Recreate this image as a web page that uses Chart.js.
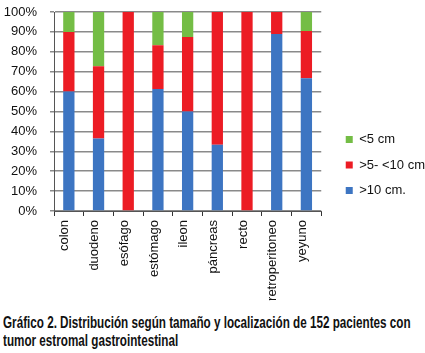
<!DOCTYPE html>
<html>
<head>
<meta charset="utf-8">
<script src="https://cdn.jsdelivr.net/npm/chart.js@4/dist/chart.umd.min.js"></script>
<style>
  html, body { margin: 0; padding: 0; background: #fff; }
  #wrap { position: relative; width: 425px; height: 304px; }
  #caption {
    position: absolute; top: 314px; left: 3px;
    font-family: "Liberation Sans", Arial, sans-serif;
    font-weight: bold; font-size: 16px; line-height: 18px; color: #111;
    white-space: nowrap;
    transform: scaleX(0.73); transform-origin: 0 0;
  }
</style>
</head>
<body>
<div id="wrap"><canvas id="chart_gist" width="425" height="304"></canvas></div>
<div id="caption">Gráfico 2. Distribución según tamaño y localización de 152 pacientes con<br>tumor estromal gastrointestinal</div>
<script>
var categories = ['colon', 'duodeno', 'esófago', 'estómago', 'ileon', 'páncreas', 'recto', 'retroperitoneo', 'yeyuno'];
var mayor10 = [60, 36.4, 0, 61.3, 50, 33.3, 0, 88.9, 66.7];
var entre5y10 = [30, 36.4, 100, 22, 37.5, 66.7, 100, 11.1, 23.8];
var menor5 = [10, 27.2, 0, 16.7, 12.5, 0, 0, 0, 9.5];
var yTicks = [0, 10, 20, 30, 40, 50, 60, 70, 80, 90, 100];

var chart_gist = new Chart(document.getElementById('chart_gist'), {
    type: 'bar',
    data: {
        labels: categories,
        datasets: [
            { label: '>10 cm.', data: mayor10, backgroundColor: '#3d75c2' },
            { label: '>5- <10 cm', data: entre5y10, backgroundColor: '#ec1c24' },
            { label: '<5 cm', data: menor5, backgroundColor: '#74bd45' }
        ]
    },
    options: {
        animation: false,
        responsive: false,
        datasets: {
            bar: { categoryPercentage: 1, barPercentage: 0.38 }
        },
        layout: { padding: { top: 4, left: 0, right: 2, bottom: 0 } },
        plugins: {
            tooltip: { enabled: false },
            legend: {
                position: 'right',
                reverse: true,
                labels: {
                    boxWidth: 7,
                    boxHeight: 7,
                    padding: 12.5,
                    color: '#111',
                    font: { family: 'Liberation Sans', size: 13 }
                }
            }
        },
        scales: {
            x: {
                stacked: true,
                afterFit: function(axis) { axis.height = 93; },
                grid: { offset: true, drawOnChartArea: false, tickLength: 5, color: '#333' },
                border: { color: '#555' },
                ticks: {
                    autoSkip: false,
                    minRotation: 90, maxRotation: 90, padding: 4, labelOffset: -4,
                    color: '#111',
                    font: { family: 'Liberation Sans', size: 13 }
                }
            },
            y: {
                stacked: true,
                min: 0,
                max: 100,
                afterBuildTicks: function(axis) {
                    axis.ticks = yTicks.map(function(v) { return { value: v }; });
                },
                afterFit: function(axis) {
                    axis.width = 54;
                    axis.paddingTop = 12;
                    axis.paddingBottom = 8;
                },
                grid: { color: '#8a8a8a', lineWidth: 1.5, tickLength: 4 },
                border: { color: '#555' },
                ticks: {
                    autoSkip: false,
                    padding: 13,
                    color: '#111',
                    font: { family: 'Liberation Sans', size: 13 },
                    callback: function(value) { return value + '%'; }
                }
            }
        }
    },
    plugins: [{
        id: 'legendNudge',
        afterLayout: (chart) => {
            const lg = chart.legend;
            lg.top += 11; lg.bottom += 11;
            lg.left += 12; lg.right += 12;
        }
    }, {
        id: 'customPlugin',
        beforeDraw: (chart, args, options) => {
            const ctx = chart.canvas.getContext('2d');
            ctx.save();
            ctx.globalCompositeOperation = 'destination-over';
            ctx.fillStyle = 'white';
            ctx.fillRect(0, 0, chart.canvas.width, chart.canvas.height);
            ctx.restore();
        }
    }]
});
</script>
</body>
</html>
